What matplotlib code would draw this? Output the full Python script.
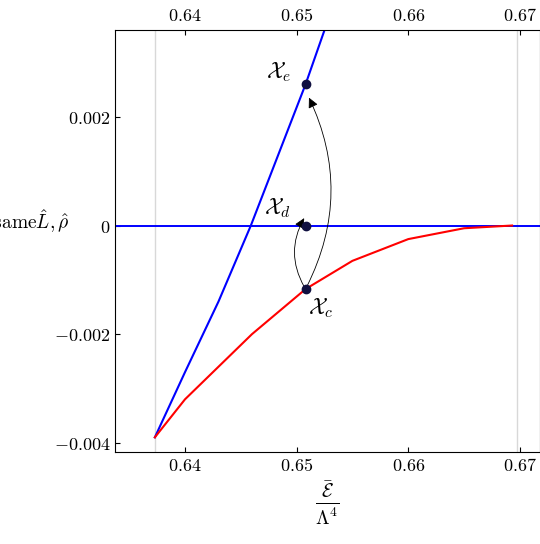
import matplotlib
matplotlib.use("Agg")
import matplotlib.pyplot as plt
from matplotlib.patches import FancyArrowPatch
from matplotlib.ticker import FuncFormatter

plt.rcParams['mathtext.fontset'] = 'cm'
plt.rcParams['font.family'] = 'serif'
plt.rcParams['font.serif'] = ['DejaVu Serif']

blue_x = [0.6373, 0.6400, 0.6430, 0.6459, 0.6508, 0.6525]
blue_y = [-0.0039, -0.0027, -0.0014, 0.0, 0.0026, 0.0036]
red_x = [0.6373, 0.6400, 0.6430, 0.6460, 0.6508, 0.6550, 0.6600, 0.6650, 0.6693]
red_y = [-0.0039, -0.0032, -0.0026, -0.0020, -0.00117, -0.00065, -0.00025, -0.00005, 0.0]
pts = {'e': (0.6508, 0.0026), 'd': (0.6508, 0.0), 'c': (0.6508, -0.00117)}
xticks = [0.64, 0.65, 0.66, 0.67]
yticks = [-0.004, -0.002, 0.0, 0.002]

fig = plt.figure(figsize=(5.4, 5.44), dpi=100)
ax = fig.add_axes([115/540, 92/544, 425/540, 422/544])
ax.set_xlim(0.63373, 0.6718)
ax.set_ylim(-0.00417, 0.0036)
for v in [0.6373, 0.6697]:
    ax.axvline(v, color='#d8d8d8', lw=1)
ax.axhline(0, color='blue', lw=1.4)
ax.plot(blue_x, blue_y, color='blue', lw=1.5)
ax.plot(red_x, red_y, color='red', lw=1.5)
for k, (x, y) in pts.items():
    ax.plot(x, y, 'o', color='#101040', ms=6, zorder=5)
ax.text(0.6495, 0.0026, r'$\mathcal{X}_e$', fontsize=16, ha='right', va='bottom')
ax.text(0.6495, 0.0001, r'$\mathcal{X}_d$', fontsize=16, ha='right', va='bottom')
ax.text(0.6510, -0.0013, r'$\mathcal{X}_c$', fontsize=16, ha='left', va='top')
ax.add_patch(FancyArrowPatch(pts['c'], (0.6508, 0.00018), connectionstyle='arc3,rad=-0.3',
                             arrowstyle='-|>,head_length=6,head_width=3', color='black', lw=0.6, zorder=4))
ax.add_patch(FancyArrowPatch(pts['c'], (0.6510, 0.0024), connectionstyle='arc3,rad=0.25',
                             arrowstyle='-|>,head_length=6,head_width=3', color='black', lw=0.6, zorder=4))
ax.set_xticks(xticks)
ax.set_yticks(yticks)
ax.xaxis.set_major_formatter(FuncFormatter(lambda v, p: f'${v:.2f}$'))
ax.yaxis.set_major_formatter(FuncFormatter(lambda v, p: '$0$' if abs(v) < 1e-12 else f'${v:.3f}$'))
ax.tick_params(top=True, labeltop=True, direction='in', labelsize=13)
ax.set_xlabel(r'$\frac{\bar{\mathcal{E}}}{\Lambda^4}$', fontsize=20)
ax.set_ylabel(r'$\frac{\Delta\sigma}{\Lambda^2}|_{\mathrm{same}\hat{L},\hat{\rho}}$', fontsize=20, rotation=0, labelpad=30)
fig.savefig('out.png', dpi=100)
